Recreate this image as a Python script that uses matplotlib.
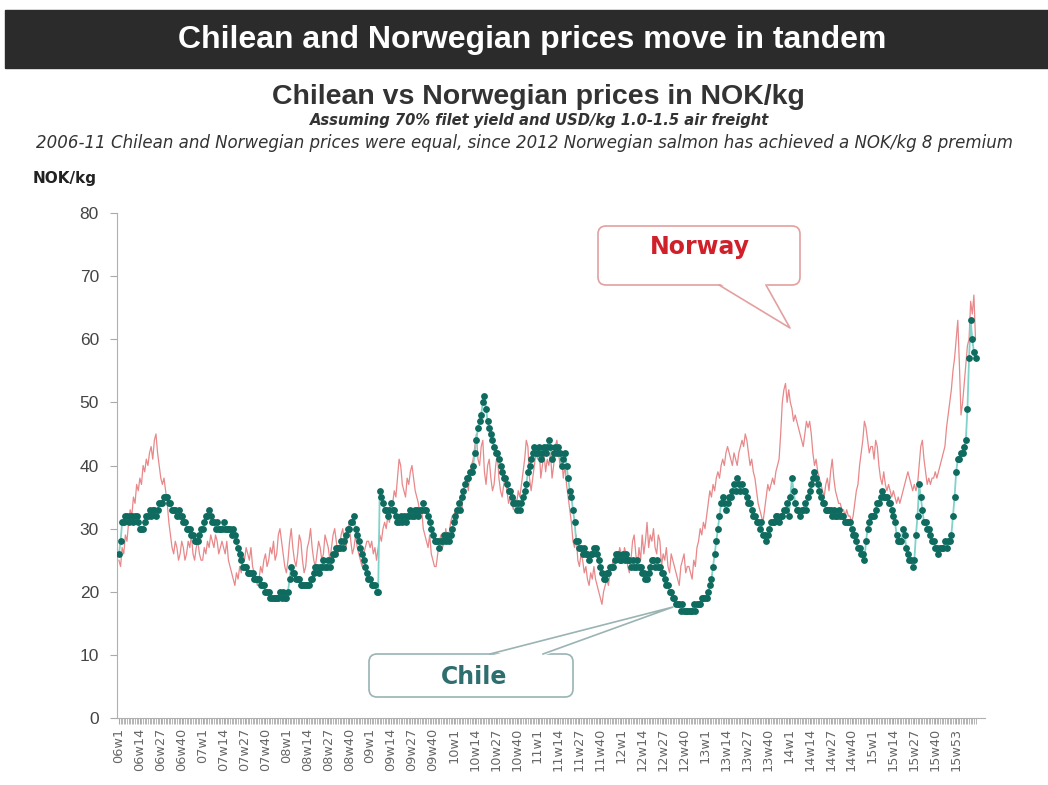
import matplotlib.pyplot as plt
from matplotlib.patches import Rectangle, FancyBboxPatch, Polygon

# weekly prices, NOK/kg, one list per year
norway_06 = [25, 24, 27, 26, 29, 28, 31, 33, 32, 35, 34, 37, 36,
             38, 37, 40, 39, 41, 40, 42, 43, 41, 44, 45, 42, 40,
             38, 37, 38, 36, 34, 31, 29, 27, 26, 28, 27, 25, 26,
             28, 27, 25, 26, 28, 27, 29, 26, 25, 27, 28, 26, 25]
norway_07 = [25, 27, 26, 28, 27, 29, 28, 27, 29, 28, 26, 27, 28,
             27, 26, 28, 25, 24, 23, 22, 21, 23, 22, 24, 23, 26,
             25, 27, 26, 25, 27, 24, 23, 22, 21, 22, 24, 23, 25,
             26, 24, 25, 27, 26, 28, 25, 26, 29, 30, 28, 26, 24]
norway_08 = [23, 25, 28, 30, 27, 25, 24, 26, 29, 28, 25, 23, 24,
             27, 28, 30, 27, 25, 24, 26, 28, 27, 25, 26, 29, 28,
             27, 25, 27, 29, 30, 28, 26, 27, 29, 30, 28, 27, 29,
             31, 28, 26, 27, 29, 27, 26, 25, 24, 26, 27, 28, 28]
norway_09 = [27, 28, 26, 27, 25, 27, 29, 28, 30, 31, 30, 32, 31,
             33, 34, 36, 35, 38, 41, 40, 37, 36, 35, 38, 37, 39,
             40, 38, 36, 35, 34, 32, 33, 30, 29, 28, 27, 29, 26,
             25, 24, 24, 26, 28, 29, 27, 28, 30, 28, 29, 31, 32]
norway_10 = [32, 33, 31, 34, 35, 33, 36, 37, 38, 36, 39, 40, 41,
             43, 45, 41, 40, 43, 44, 39, 37, 40, 41, 38, 36, 37,
             40, 42, 38, 36, 35, 37, 38, 36, 34, 35, 34, 33, 35,
             34, 36, 35, 37, 39, 41, 44, 43, 38, 36, 38, 40, 42]
norway_11 = [41, 43, 38, 40, 42, 39, 41, 40, 42, 38, 40, 43, 44,
             42, 40, 41, 38, 40, 37, 35, 33, 31, 28, 27, 29, 25,
             24, 26, 25, 23, 24, 22, 21, 23, 22, 24, 22, 21, 20,
             19, 18, 20, 21, 22, 21, 23, 24, 25, 24, 26, 25, 27]
norway_12 = [26, 25, 27, 26, 24, 23, 25, 28, 29, 26, 24, 27, 25,
             29, 26, 28, 31, 27, 29, 28, 30, 27, 26, 29, 28, 24,
             26, 25, 27, 24, 23, 26, 25, 24, 23, 22, 21, 24, 25,
             26, 23, 24, 24, 23, 22, 25, 24, 27, 28, 30, 29, 31]
norway_13 = [30, 32, 34, 36, 35, 37, 36, 38, 39, 38, 40, 41, 40,
             42, 43, 42, 41, 40, 42, 41, 40, 42, 43, 44, 43, 45,
             44, 42, 40, 41, 39, 38, 36, 34, 33, 32, 31, 33, 35,
             37, 36, 37, 38, 37, 39, 40, 41, 45, 50, 52, 53, 50]
norway_14 = [52, 50, 49, 47, 48, 47, 46, 45, 44, 43, 45, 47, 46,
             47, 45, 42, 40, 41, 39, 38, 37, 36, 35, 37, 38, 36,
             39, 41, 38, 36, 35, 34, 34, 33, 33, 32, 33, 32, 32,
             31, 32, 34, 36, 37, 40, 42, 44, 47, 46, 44, 42, 43]
norway_15 = [43, 41, 44, 43, 40, 38, 37, 39, 37, 36, 37, 36, 35,
             36, 35, 34, 35, 34, 35, 36, 37, 38, 39, 38, 37, 36,
             37, 36, 37, 40, 43, 44, 41, 39, 37, 38, 37, 38, 38,
             39, 38, 39, 40, 41, 42, 43, 46, 48, 50, 52, 55, 57, 60]
norway_16 = [63, 56, 48, 50, 53, 56, 59, 60, 66, 64, 67, 60]

chile_06 = [26, 28, 31, 31, 32, 32, 31, 32, 32, 31, 32, 32, 31,
            30, 30, 30, 31, 32, 32, 33, 32, 33, 33, 32, 33, 34,
            34, 34, 35, 35, 35, 34, 34, 33, 33, 33, 32, 33, 32,
            32, 31, 31, 30, 30, 30, 29, 29, 28, 28, 28, 29, 30]
chile_07 = [30, 31, 32, 32, 33, 32, 31, 31, 30, 31, 30, 30, 30,
            31, 30, 30, 30, 30, 29, 30, 29, 28, 27, 26, 25, 24,
            24, 24, 23, 23, 23, 23, 22, 22, 22, 22, 21, 21, 21,
            20, 20, 20, 19, 19, 19, 19, 19, 19, 20, 19, 20, 19]
chile_08 = [19, 20, 22, 24, 23, 23, 22, 22, 22, 21, 21, 21, 21,
            21, 21, 22, 22, 23, 24, 24, 23, 24, 24, 25, 24, 24,
            25, 24, 25, 26, 26, 27, 27, 27, 28, 27, 28, 29, 30,
            30, 31, 31, 32, 30, 29, 28, 27, 26, 25, 24, 23, 22]
chile_09 = [22, 21, 21, 21, 20, 20, 36, 35, 34, 33, 33, 32, 33,
            34, 33, 33, 32, 31, 31, 32, 31, 32, 31, 32, 32, 33,
            32, 32, 33, 33, 32, 33, 33, 34, 33, 33, 32, 31, 30,
            29, 28, 28, 28, 27, 28, 28, 29, 28, 29, 28, 29, 30]
chile_10 = [31, 32, 33, 34, 33, 35, 36, 37, 38, 38, 39, 39, 40,
            42, 44, 46, 47, 48, 50, 51, 49, 47, 46, 45, 44, 43,
            42, 42, 41, 40, 39, 38, 38, 37, 36, 36, 35, 34, 34,
            33, 34, 33, 34, 35, 36, 37, 39, 40, 41, 42, 43, 42]
chile_11 = [42, 43, 41, 42, 43, 42, 43, 44, 43, 41, 42, 43, 42,
            43, 42, 40, 41, 42, 40, 38, 36, 35, 33, 31, 28, 28,
            27, 27, 26, 27, 26, 26, 25, 26, 26, 27, 27, 26, 25,
            24, 23, 22, 22, 23, 23, 24, 24, 24, 25, 26, 26, 25]
chile_12 = [25, 26, 25, 26, 25, 25, 24, 25, 24, 24, 25, 24, 24,
            23, 23, 22, 22, 23, 24, 25, 25, 24, 25, 24, 24, 23,
            23, 22, 21, 21, 20, 20, 19, 19, 18, 18, 18, 17, 18,
            17, 17, 17, 17, 17, 17, 18, 17, 18, 18, 18, 19, 19]
chile_13 = [19, 19, 20, 21, 22, 24, 26, 28, 30, 32, 34, 35, 34,
            33, 34, 35, 35, 36, 37, 36, 38, 37, 36, 37, 36, 36,
            35, 34, 34, 33, 32, 32, 31, 31, 30, 31, 29, 29, 28,
            29, 30, 31, 31, 31, 32, 32, 31, 32, 32, 33, 33, 34]
chile_14 = [32, 35, 38, 36, 34, 33, 33, 32, 33, 33, 34, 33, 35,
            36, 37, 38, 39, 38, 37, 36, 35, 34, 34, 33, 33, 33,
            33, 32, 33, 32, 32, 33, 32, 32, 32, 31, 31, 31, 31,
            30, 29, 29, 28, 27, 27, 26, 26, 25, 28, 30, 31, 32]
chile_15 = [32, 32, 33, 34, 34, 35, 36, 35, 35, 35, 34, 34, 33,
            32, 31, 29, 28, 28, 28, 30, 29, 27, 26, 25, 25, 24,
            25, 29, 32, 37, 35, 33, 31, 31, 30, 30, 29, 28, 28,
            27, 27, 26, 27, 27, 27, 28, 27, 28, 28, 29, 32, 35, 39]
chile_16 = [41, 41, 42, 42, 43, 44, 49, 57, 63, 60, 58, 57]

years = [6, 7, 8, 9, 10, 11, 12, 13, 14, 15, 16]
weeks_in_year = [52, 52, 52, 52, 52, 52, 52, 52, 52, 53, 12]

norway = (norway_06 + norway_07 + norway_08 + norway_09 + norway_10 + norway_11
          + norway_12 + norway_13 + norway_14 + norway_15 + norway_16)
chile = (chile_06 + chile_07 + chile_08 + chile_09 + chile_10 + chile_11
         + chile_12 + chile_13 + chile_14 + chile_15 + chile_16)

week_labels = []
for yr, n in zip(years, weeks_in_year):
    for w in range(1, n + 1):
        week_labels.append(f"{yr:02d}w{w}")

W, H = 1048, 785
fig = plt.figure(figsize=(W / 100, H / 100), dpi=100)

# chart area
ax = fig.add_axes([117 / W, 1 - 718 / H, (985 - 117) / W, (718 - 213) / H])
x = list(range(len(norway)))
ax.plot(x, norway, color='#e8888a', lw=0.9, zorder=2)
ax.plot(x, chile, color='#7fd3c8', lw=1.3, marker='o', ms=3.9,
        mfc='#0f6b5f', mec='#0f6b5f', zorder=3)

ax.set_xlim(-1.2, 537.9)
ax.set_ylim(0, 80)
ax.set_yticks(range(0, 81, 10))
major = list(range(0, len(week_labels), 13))
ax.set_xticks(major)
ax.set_xticklabels([week_labels[i] for i in major], rotation=90,
                   fontsize=9.3, color='#666666', family='DejaVu Sans')
ax.set_xticks(x, minor=True)
ax.tick_params(axis='x', which='both', length=4, color='#aaaaaa', pad=3)
ax.tick_params(axis='y', length=5, color='#aaaaaa', labelsize=12.5,
               labelcolor='#444444', pad=8)
for lab in ax.get_yticklabels():
    lab.set_family('Liberation Sans')
for s in ['top', 'right']:
    ax.spines[s].set_visible(False)
for s in ['left', 'bottom']:
    ax.spines[s].set_color('#b0b0b0')

# overlay in pixel coordinates for titles and callouts
ov = fig.add_axes([0, 0, 1, 1], zorder=5)
ov.set_xlim(0, W)
ov.set_ylim(H, 0)
ov.axis('off')

ov.add_patch(Rectangle((5, 10), W - 5, 58, color='#2b2b2b'))
ov.text(532, 40, 'Chilean and Norwegian prices move in tandem', color='white',
        fontsize=23, fontweight='bold', family='Liberation Sans', ha='center', va='center')
ov.text(538, 97, 'Chilean vs Norwegian prices in NOK/kg', color='#333333',
        fontsize=20.5, fontweight='bold', family='Liberation Sans', ha='center', va='center')
ov.text(540, 121, 'Assuming 70% filet yield and USD/kg 1.0-1.5 air freight', color='#333333',
        fontsize=10.6, fontweight='bold', style='italic', family='DejaVu Sans',
        ha='center', va='center')
ov.text(524, 143, '2006-11 Chilean and Norwegian prices were equal, since 2012 Norwegian '
        'salmon has achieved a NOK/kg 8 premium', color='#333333', fontsize=12,
        style='italic', family='DejaVu Sans', ha='center', va='center')
ov.text(33, 178, 'NOK/kg', color='#222222', fontsize=11, fontweight='bold',
        family='DejaVu Sans', ha='left', va='center')

# Norway callout
ov.add_patch(FancyBboxPatch((598, 226), 202, 59, boxstyle='round,pad=0,rounding_size=8',
                            fc='white', ec='#e3a0a0', lw=1.2))
ov.add_patch(Polygon([(719, 283), (790, 328), (766, 283)], closed=True, fc='white', ec='none'))
ov.plot([719, 790, 766], [285, 328, 285], color='#e3a0a0', lw=1.2)
ov.text(700, 247, 'Norway', color='#d0202a', fontsize=17, fontweight='bold',
        family='DejaVu Sans', ha='center', va='center')

# Chile callout
ov.add_patch(FancyBboxPatch((369, 654), 204, 43, boxstyle='round,pad=0,rounding_size=8',
                            fc='white', ec='#9ab3b3', lw=1.2))
ov.add_patch(Polygon([(490, 656), (673, 607), (543, 656)], closed=True, fc='white', ec='none'))
ov.plot([490, 673, 543], [654, 607, 654], color='#9ab3b3', lw=1.2)
ov.text(474, 677, 'Chile', color='#2e6e6e', fontsize=17, fontweight='bold',
        family='DejaVu Sans', ha='center', va='center')

fig.savefig('out.png', dpi=100, facecolor='white')
